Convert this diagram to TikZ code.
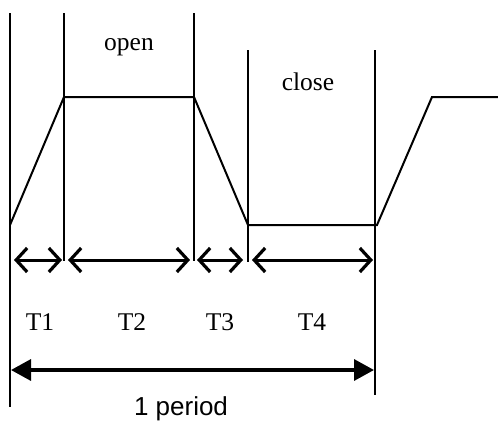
\documentclass[tikz,border=0pt]{standalone}
\usepackage{fontspec}
\setmainfont{Liberation Serif}
\newfontfamily\arialfont{Liberation Sans}
\usetikzlibrary{arrows.meta}
\tikzset{
  guide/.style={line width=2pt, line cap=butt},
  wave/.style={line width=2pt, line join=miter},
  span/.style={line width=3pt, {Straight Barb[length=11pt,width=24pt,line width=3.2pt]}-{Straight Barb[length=11pt,width=24pt,line width=3.2pt]}},
  period/.style={line width=3.4pt, {Triangle[length=20pt,width=21pt]}-{Triangle[length=20pt,width=21pt]}},
  lbl/.style={font=\fontsize{25.5}{28}\selectfont, inner sep=0pt},
  plbl/.style={font=\arialfont\fontsize{26}{30}\selectfont, inner sep=0pt}
}
\begin{document}
\begin{tikzpicture}[x=1pt,y=-1pt]
\useasboundingbox (0,0) rectangle (498,424);
% vertical guide lines
\coordinate (v1t) at (10,13);  \coordinate (v1b) at (10,407);
\coordinate (v2t) at (64,13);  \coordinate (v2b) at (64,261);
\coordinate (v3t) at (194,13); \coordinate (v3b) at (194,261);
\coordinate (v4t) at (248,50); \coordinate (v4b) at (248,262);
\coordinate (v5t) at (375,50); \coordinate (v5b) at (375,395);
\foreach \v in {v1,v2,v3,v4,v5} \draw[guide] (\v t) -- (\v b);
% waveform
\coordinate (w0) at (10,225);
\coordinate (w1) at (64,97);
\coordinate (w2) at (194,97);
\coordinate (w3) at (248,225);
\coordinate (w4) at (377,225);
\coordinate (w5) at (432,97);
\coordinate (w6) at (498,97);
\draw[wave] (w0) -- (w1) -- (w2) -- (w3) -- (w4) -- (w5) -- (w6);
% span arrows
\coordinate (a1l) at (14,260);  \coordinate (a1r) at (62,260);
\coordinate (a2l) at (68,260);  \coordinate (a2r) at (190,260);
\coordinate (a3l) at (197,260); \coordinate (a3r) at (243,260);
\coordinate (a4l) at (252,260); \coordinate (a4r) at (373,260);
\draw[span] (a1l) -- (a1r);
\draw[span] (a2l) -- (a2r);
\draw[span] (a3l) -- (a3r);
\draw[span] (a4l) -- (a4r);
% period arrow
\coordinate (pl) at (11,370); \coordinate (pr) at (374,370);
\draw[period] (pl) -- (pr);
% labels
\node[lbl] (open) at (129,47) {open};
\node[lbl] (close) at (308,82) {close};
\node[lbl] (t1) at (40,322) {T1};
\node[lbl] (t2) at (132,322) {T2};
\node[lbl] (t3) at (220,322) {T3};
\node[lbl] (t4) at (312,322) {T4};
\node[plbl] (per) at (181,409) {1 period};
\end{tikzpicture}
\end{document}
